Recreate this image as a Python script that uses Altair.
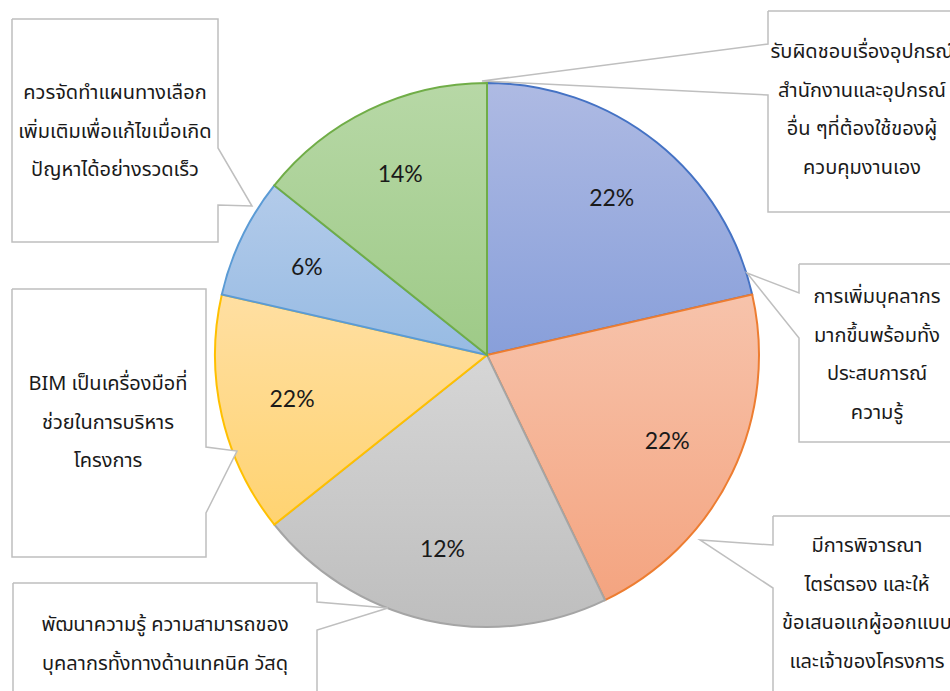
import altair as alt
import pandas as pd

# ---------------- data ----------------
categories = [
    "รับผิดชอบเรื่องอุปกรณ์\nสำนักงานและอุปกรณ์\nอื่น ๆที่ต้องใช้ของผู้\nควบคุมงานเอง",
    "การเพิ่มบุคลากร\nมากขึ้นพร้อมทั้ง\nประสบการณ์\nความรู้",
    "มีการพิจารณา\nไตร่ตรอง และให้\nข้อเสนอแกผู้ออกแบบ\nและเจ้าของโครงการ",
    "พัฒนาความรู้ ความสามารถของ\nบุคลากรทั้งทางด้านเทคนิค วัสดุ",
    "BIM เป็นเครื่องมือที่\nช่วยในการบริหาร\nโครงการ",
    "ควรจัดทำแผนทางเลือก\nเพิ่มเติมเพื่อแก้ไขเมื่อเกิด\nปัญหาได้อย่างรวดเร็ว",
]
counts = [3, 3, 3, 2, 1, 2]
pct_labels = ["22%", "22%", "12%", "22%", "6%", "14%"]

# ---------------- styles / layout ----------------
W, H = 950, 691
CX, CY, R = 487, 355, 272
edge_colors = ["#4472C4", "#ED7D31", "#A5A5A5", "#FFC000", "#5B9BD5", "#70AD47"]
grad_top = ["#AEBAE3", "#F7C3AB", "#D6D6D6", "#FFDFA2", "#B3CBEA", "#B7D8A6"]
grad_bot = ["#889FDA", "#F4A480", "#BEBEBE", "#FFD371", "#97BBE3", "#9ECA87"]
THAI_FONT = "Noto Sans Thai, Noto Sans Thai UI, Tahoma, Leelawadee UI, Loma, Garuda, sans-serif"

# callout geometry: box (x0, y0, x1, y1), side of pointer, pointer (start, tip, end), first text line anchor
callouts = [
    ((768, 11, 962, 212), "left", ((768, 95), (482, 81), (768, 44)), (862, 52)),
    ((799, 264, 962, 442), "left", ((799, 338), (747, 273), (799, 293)), (877, 297)),
    ((773, 516, 962, 700), "left", ((773, 588), (700, 540), (773, 545)), (867, 546)),
    ((13, 583, 317, 700), "right", ((317, 602), (388, 608), (317, 630)), (165, 625)),
    ((12, 289, 206, 557), "right", ((206, 447), (237, 451), (206, 513)), (108, 384)),
    ((12, 19, 218, 242), "right", ((218, 148), (252, 206), (218, 205)), (115, 93)),
]

poly_rows = []
text_rows = []
for k, (box, side, ptr, tcen) in enumerate(callouts):
    x0, y0, x1, y1 = box
    if side == "right":
        pts = [(x0, y0), (x1, y0), ptr[0], ptr[1], ptr[2], (x1, y1), (x0, y1), (x0, y0)]
    else:
        pts = [(x0, y0), (x1, y0), (x1, y1), (x0, y1), ptr[0], ptr[1], ptr[2], (x0, y0)]
    for i, (px, py) in enumerate(pts):
        poly_rows.append({"box": k, "i": i, "px": px, "py": py})
    text_rows.append({"box": k, "tx": tcen[0], "ty": tcen[1], "label": categories[k]})

poly_df = pd.DataFrame(poly_rows)
text_df = pd.DataFrame(text_rows)

pie_df = pd.DataFrame({
    "idx": list(range(len(counts))),
    "count": counts,
    "pct": pct_labels,
})


def grad(i):
    return {
        "gradient": "linear",
        "x1": 0, "y1": 0, "x2": 0, "y2": 1,
        "stops": [
            {"offset": 0, "color": grad_top[i]},
            {"offset": 1, "color": grad_bot[i]},
        ],
    }


fill_enc = {
    "condition": [{"test": f"datum.idx == {i}", "value": grad(i)} for i in range(len(counts) - 1)],
    "value": grad(len(counts) - 1),
}

base = alt.Chart(pie_df).encode(
    theta=alt.Theta("count:Q", stack=True),
    order=alt.Order("idx:Q"),
)

pie = base.mark_arc(outerRadius=R, strokeWidth=2).encode(
    x=alt.value(CX),
    y=alt.value(CY),
    fill=fill_enc,
    stroke=alt.Stroke("idx:N", scale=alt.Scale(domain=list(range(len(counts))), range=edge_colors), legend=None),
)

pct = base.mark_text(radius=200, fontSize=23, font="Lato", color="#1a1a1a").encode(
    x=alt.value(CX),
    y=alt.value(CY),
    text="pct:N",
)

boxes = alt.Chart(poly_df).mark_line(
    fill="white", stroke="#BFBFBF", strokeWidth=1.5, strokeJoin="miter"
).encode(
    x=alt.X("px:Q", scale=None),
    y=alt.Y("py:Q", scale=None),
    order=alt.Order("i:Q"),
    detail="box:N",
)

box_text = alt.Chart(text_df).mark_text(
    lineBreak="\n", fontSize=20, lineHeight=38.5, align="center", baseline="middle",
    font=THAI_FONT, color="#1a1a1a",
).encode(
    x=alt.X("tx:Q", scale=None),
    y=alt.Y("ty:Q", scale=None),
    text="label:N",
)

chart = alt.layer(pie, pct, boxes, box_text).properties(
    width=W, height=H,
    autosize=alt.AutoSizeParams(type="none"),
    padding=0,
    background="white",
).configure_view(stroke=None)

chart.save("out.html", embed_options={"renderer": "svg", "actions": False})
